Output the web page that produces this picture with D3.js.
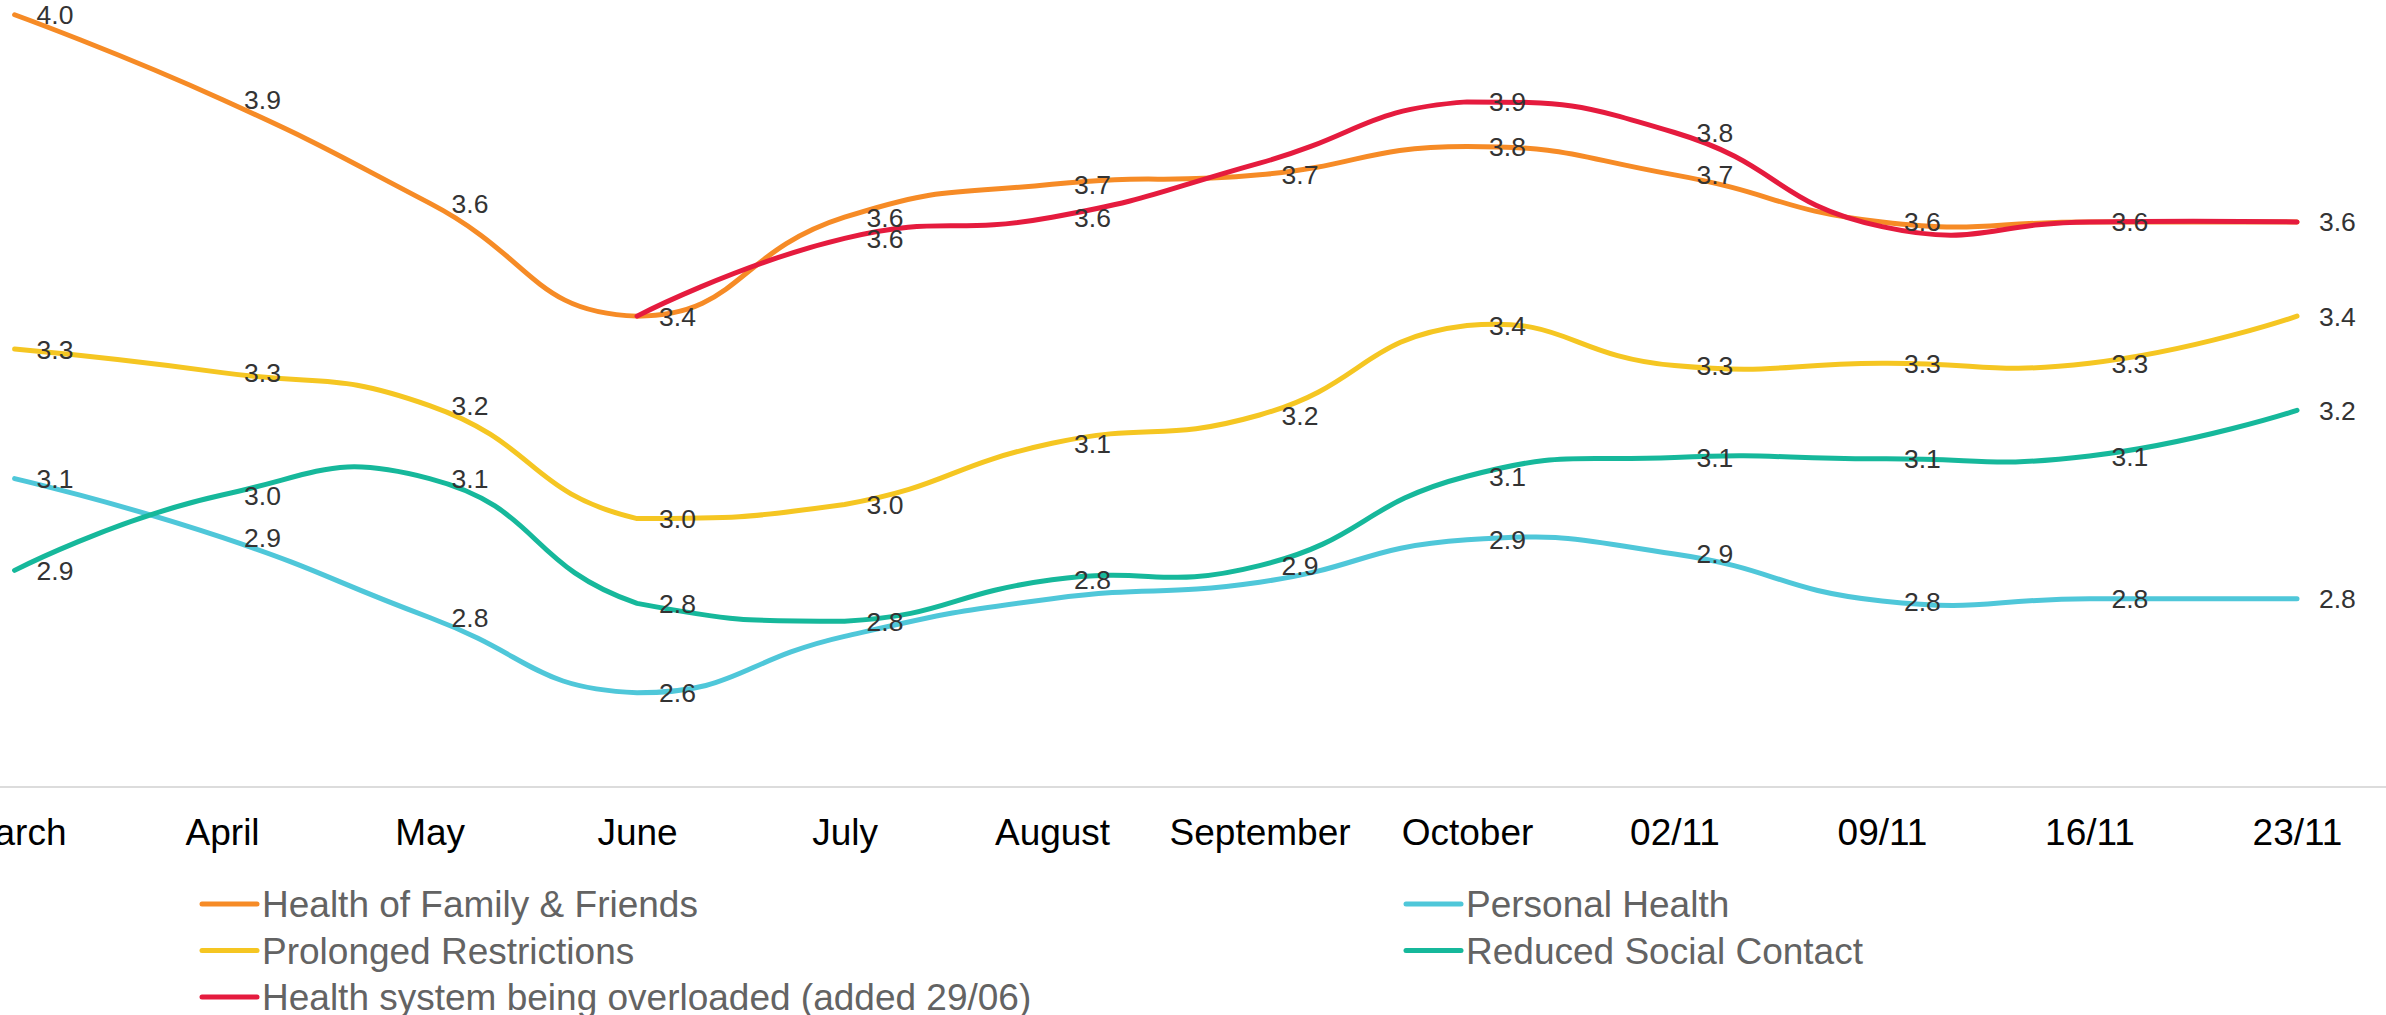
<!DOCTYPE html>
<html>
<head>
<meta charset="utf-8">
<script src="https://cdn.jsdelivr.net/npm/d3@7"></script>
<style>
  body { margin: 0; background: #fff; }
  svg { display: block; font-family: "Liberation Sans", Arial, sans-serif; }
</style>
</head>
<body>
<svg width="2386" height="1015"></svg>
<script>
// categories on the x axis
const categories = ["March", "April", "May", "June", "July", "August", "September", "October", "02/11", "09/11", "16/11", "23/11"];

// series values (labels show one decimal)
const familyFriends   = [4.04, 3.86, 3.64, 3.40, 3.61, 3.68, 3.70, 3.76, 3.70, 3.60, 3.60, 3.60];
const personalHealth  = [3.055, 2.93, 2.76, 2.60, 2.72, 2.80, 2.835, 2.925, 2.895, 2.795, 2.80, 2.80];
const restrictions    = [3.33, 3.28, 3.21, 2.97, 3.00, 3.13, 3.19, 3.38, 3.295, 3.30, 3.30, 3.40];
const socialContact   = [2.86, 3.02, 3.055, 2.79, 2.752, 2.84, 2.87, 3.06, 3.10, 3.097, 3.103, 3.20];
const healthSystem    = [null, null, null, 3.40, 3.565, 3.61, 3.725, 3.855, 3.79, 3.59, 3.60, 3.60];

const seriesNames = ["Health of Family & Friends", "Personal Health", "Prolonged Restrictions",
                     "Reduced Social Contact", "Health system being overloaded (added 29/06)"];
const seriesValues = [familyFriends, personalHealth, restrictions, socialContact, healthSystem];
const colors = ["#f68b26", "#4fc7d9", "#f5c622", "#16b89b", "#e51b3e"];

const svg = d3.select("svg");
const W = 2386;
const axisY = 787;

const xScale = d3.scalePoint().domain(categories).range([14.6, 2297]);
const yScale = d3.scaleLinear().domain([2.4, 4.0]).range([axisY, 33.6]);

// echarts-like smoothing: control points along (next - prev), split by segment length
function curveSmooth(context) {
    let pts;
    const smooth = 0.5;
    return {
        areaStart() {}, areaEnd() {},
        lineStart() { pts = []; },
        point(x, y) { pts.push([+x, +y]); },
        lineEnd() {
            if (!pts.length) return;
            const minX = d3.min(pts, p => p[0]), maxX = d3.max(pts, p => p[0]);
            const minY = d3.min(pts, p => p[1]), maxY = d3.max(pts, p => p[1]);
            const clamp = c => [Math.max(minX, Math.min(maxX, c[0])), Math.max(minY, Math.min(maxY, c[1]))];
            context.moveTo(pts[0][0], pts[0][1]);
            let cp0 = pts[0].slice();
            let v = [0, 0];
            for (let i = 1; i < pts.length; i++) {
                const p = pts[i], prev = pts[i - 1], next = pts[i + 1];
                let ratio = 0.5;
                let cp1;
                if (!next) {
                    cp1 = p.slice();
                } else {
                    v = [next[0] - prev[0], next[1] - prev[1]];
                    const d0 = Math.hypot(p[0] - prev[0], p[1] - prev[1]);
                    const d1 = Math.hypot(next[0] - p[0], next[1] - p[1]);
                    ratio = d1 / (d0 + d1);
                    cp1 = [p[0] - v[0] * smooth * (1 - ratio), p[1] - v[1] * smooth * (1 - ratio)];
                }
                const a = clamp(cp0), b = clamp(cp1);
                context.bezierCurveTo(a[0], a[1], b[0], b[1], p[0], p[1]);
                cp0 = [p[0] + v[0] * smooth * ratio, p[1] + v[1] * smooth * ratio];
            }
        }
    };
}

// axis line across the whole width
svg.append("line")
    .attr("x1", 0).attr("x2", W)
    .attr("y1", axisY).attr("y2", axisY)
    .attr("stroke", "#dcdcdc")
    .attr("stroke-width", 2);

const gX = svg.append("g")
    .attr("transform", `translate(0, ${axisY})`)
    .call(d3.axisBottom(xScale).tickSize(0).tickPadding(32));
gX.select(".domain").remove();
gX.selectAll("text")
    .attr("font-size", 37)
    .attr("font-family", "Liberation Sans, Arial, sans-serif")
    .attr("fill", "#000");

// lines
const line = d3.line()
    .defined(d => d.v != null)
    .x(d => xScale(d.c))
    .y(d => yScale(d.v))
    .curve(curveSmooth);

seriesValues.forEach((vals, s) => {
    const data = vals.map((v, i) => ({ c: categories[i], v: v }));
    svg.append("path")
        .datum(data)
        .attr("d", line)
        .attr("fill", "none")
        .attr("stroke", colors[s])
        .attr("stroke-width", 5)
        .attr("stroke-linecap", "round")
        .attr("stroke-linejoin", "round");
});

// data labels, hidden when they collide with an earlier one
const labelPriority = [0, 2, 3, 1, 4];
const placed = [];
const gLabels = svg.append("g");
labelPriority.forEach(s => {
    seriesValues[s].forEach((v, i) => {
        if (v == null) return;
        const x = xScale(categories[i]) + 22;
        const y = yScale(v);
        const box = { x0: x, x1: x + 38, y0: y - 10, y1: y + 10 };
        const hit = placed.some(b => b.x0 < box.x1 && box.x0 < b.x1 && b.y0 < box.y1 && box.y0 < b.y1);
        if (hit) return;
        placed.push(box);
        gLabels.append("text")
            .attr("x", x)
            .attr("y", y)
            .attr("dy", "0.36em")
            .attr("font-size", 26.5)
            .attr("fill", "#333")
            .text(d3.format(".1f")(v));
    });
});

// legend, two columns
const legend = svg.append("g");
seriesNames.forEach((name, i) => {
    const col = i % 2, row = Math.floor(i / 2);
    const lx = col === 0 ? 202 : 1406;
    const ly = 904 + row * 46.5;
    legend.append("line")
        .attr("x1", lx).attr("x2", lx + 55)
        .attr("y1", ly).attr("y2", ly)
        .attr("stroke", colors[i])
        .attr("stroke-width", 5)
        .attr("stroke-linecap", "round");
    legend.append("text")
        .attr("x", lx + 60)
        .attr("y", ly + 13)
        .attr("font-size", 37)
        .attr("fill", "#636363")
        .text(name);
});
</script>
</body>
</html>
